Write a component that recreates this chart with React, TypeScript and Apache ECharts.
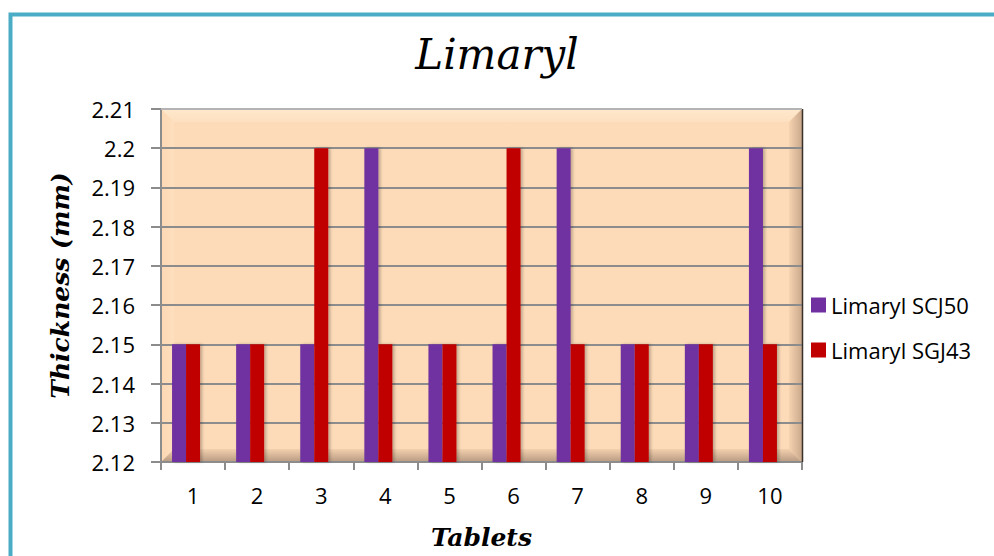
import React, { useEffect, useRef } from "react";
import * as echarts from "echarts";

const categories = ["1", "2", "3", "4", "5", "6", "7", "8", "9", "10"];
const seriesNames = ["Limaryl SCJ50", "Limaryl SGJ43"];
const scj50 = [2.15, 2.15, 2.15, 2.2, 2.15, 2.15, 2.2, 2.15, 2.15, 2.2];
const sgj43 = [2.15, 2.15, 2.2, 2.15, 2.15, 2.2, 2.15, 2.15, 2.15, 2.15];
const colors = ["#7030A0", "#C00000"];

const L = 161, R = 802, T = 109, B = 462, BV = 13;

export default function App() {
  const ref = useRef<HTMLDivElement>(null);
  useEffect(() => {
    const chart = echarts.init(ref.current!, null, { renderer: "svg" });
    const scriptFont = "'DejaVu Serif', serif";
    const uiFont = "'Open Sans', sans-serif";
    chart.setOption({
      animation: false,
      backgroundColor: "#ffffff",
      title: {
        text: "Limaryl",
        left: "center",
        top: 28,
        textStyle: { fontFamily: scriptFont, fontStyle: "italic", fontWeight: "normal", fontSize: 42, color: "#000" },
      },
      legend: {
        orient: "vertical",
        left: 806,
        top: 289,
        itemWidth: 15,
        itemHeight: 15,
        itemGap: 23,
        icon: "rect",
        data: seriesNames,
        textStyle: { fontFamily: uiFont, fontSize: 22, color: "#000", lineHeight: 22 },
      },
      grid: { left: L, right: 994 - R, top: T, bottom: 556 - B, containLabel: false, outerBoundsMode: "none" },
      xAxis: {
        type: "category",
        data: categories,
        name: "Tablets",
        nameLocation: "middle",
        nameGap: 63,
        nameTextStyle: { fontFamily: scriptFont, fontStyle: "italic", fontWeight: "bold", fontSize: 25, color: "#000" },
        axisLine: { lineStyle: { color: "#8c8c8c", width: 2 } },
        axisTick: { show: true, length: 8, lineStyle: { color: "#8c8c8c", width: 2 } },
        axisLabel: { fontFamily: uiFont, fontSize: 22, color: "#000", margin: 22 },
      },
      yAxis: {
        type: "value",
        min: 2.12,
        max: 2.21,
        interval: 0.01,
        name: "Thickness (mm)",
        nameLocation: "middle",
        nameGap: 88,
        nameRotate: 90,
        nameTextStyle: { fontFamily: scriptFont, fontStyle: "italic", fontWeight: "bold", fontSize: 25, color: "#000" },
        axisLine: { show: true, lineStyle: { color: "#8c8c8c", width: 2 } },
        axisTick: { show: true, length: 10, lineStyle: { color: "#8c8c8c", width: 2 } },
        axisLabel: { fontFamily: uiFont, fontSize: 22, color: "#000", margin: 26 },
        splitLine: { lineStyle: { color: "#8c8c8c", width: 2 } },
      },
      graphic: [
        {
          type: "rect", z: -20, silent: true,
          shape: { x: 10.5, y: 14.5, width: 1200, height: 1000 },
          style: { fill: "none", stroke: "#4BACC6", lineWidth: 4 },
        },
        {
          type: "rect", z: -10, silent: true,
          shape: { x: L, y: T, width: R - L, height: B - T },
          style: { fill: "#FDDBB8" },
        },
        {
          type: "polygon", z: -9, silent: true,
          shape: { points: [[L, T], [R, T], [R - BV, T + BV], [L + BV, T + BV]] },
          style: { fill: new echarts.graphic.LinearGradient(0, 0, 0, 1, [{ offset: 0, color: "#FEE8CC" }, { offset: 1, color: "#FDE0C0" }]) },
        },
        {
          type: "polygon", z: -9, silent: true,
          shape: { points: [[L, T], [L + BV, T + BV], [L + BV, B - BV], [L, B]] },
          style: { fill: new echarts.graphic.LinearGradient(0, 0, 1, 0, [{ offset: 0, color: "#FDD8B4" }, { offset: 1, color: "#FEDFBE" }]) },
        },
        {
          type: "polygon", z: -9, silent: true,
          shape: { points: [[R, T], [R, B], [R - BV, B - BV], [R - BV, T + BV]] },
          style: { fill: new echarts.graphic.LinearGradient(0, 0, 1, 0, [{ offset: 0, color: "#F6D3B0" }, { offset: 1, color: "#C9A88C" }]) },
        },
        {
          type: "polygon", z: -9, silent: true,
          shape: { points: [[L, B], [R, B], [R - BV, B - BV], [L + BV, B - BV]] },
          style: { fill: new echarts.graphic.LinearGradient(0, 0, 0, 1, [{ offset: 0, color: "#F3D0AD" }, { offset: 1, color: "#B89A82" }]) },
        },
        {
          type: "line", z: 5, silent: true,
          shape: { x1: R + 0.5, y1: T, x2: R + 0.5, y2: B },
          style: { stroke: "#3a302a", lineWidth: 1.5 },
        },
        {
          type: "line", z: 5, silent: true,
          shape: { x1: L, y1: T, x2: R, y2: T },
          style: { stroke: "#b4b4b4", lineWidth: 2 },
        },
      ],
      series: [
        {
          name: seriesNames[0],
          type: "bar",
          data: scj50,
          barWidth: 14,
          barGap: "0%",
          itemStyle: { color: colors[0], shadowColor: "rgba(0,0,0,0.25)", shadowBlur: 3, shadowOffsetX: 2 },
        },
        {
          name: seriesNames[1],
          type: "bar",
          data: sgj43,
          barWidth: 14,
          barGap: "0%",
          itemStyle: { color: colors[1], shadowColor: "rgba(0,0,0,0.25)", shadowBlur: 3, shadowOffsetX: 2 },
        },
        {
          name: "depth",
          type: "bar",
          data: [],
          barWidth: 14,
          barGap: "0%",
          itemStyle: { color: "transparent" },
        },
      ],
    });
    return () => chart.dispose();
  }, []);
  return <div ref={ref} style={{ position: "absolute", left: 0, top: 0, width: 994, height: 556 }} />;
}
